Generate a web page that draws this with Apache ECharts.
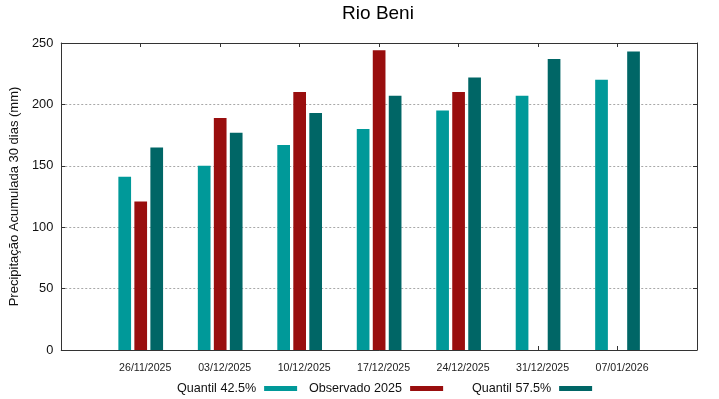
<!DOCTYPE html>
<html>
<head>
<meta charset="utf-8">
<script src="https://cdn.jsdelivr.net/npm/echarts@6/dist/echarts.min.js"></script>
<style>
  html, body { margin: 0; padding: 0; background: #fff; }
  #main { width: 719px; height: 399px; }
</style>
</head>
<body>
<div id="main"></div>
<script>
// datas das previsões (eixo x)
var dates = ['26/11/2025', '03/12/2025', '10/12/2025', '17/12/2025', '24/12/2025', '31/12/2025', '07/01/2026']
// precipitação acumulada 30 dias (mm)
var q425 = [141, 150, 167, 180, 195, 207, 220]
var obs2025 = [121, 189, 210, 244, 210, null, null]
var q575 = [165, 177, 193, 207, 222, 237, 243]
var yTicks = [0, 50, 100, 150, 200, 250]

var names = ['Quantil 42.5%', 'Observado 2025', 'Quantil 57.5%']
var colors = ['#009999', '#990e0e', '#006666']

// pares [índice, valor] para o eixo de valores
function toPairs(arr) {
    return arr.map(function (v, i) { return [i, v] })
}

var myChart = echarts.init(document.getElementById('main'))

var frameLine = { show: true, onZero: false, lineStyle: { color: '#333', width: 1 } }

function legendItem(i, left) {
    return {
        data: [names[i]],
        left: left,
        top: 382,
        padding: 0,
        icon: 'rect',
        itemWidth: 33,
        itemHeight: 5,
        align: 'right',
        selectedMode: false,
        textStyle: { fontSize: 12.6, color: '#111', fontFamily: 'Liberation Sans', padding: [0, 3, 0, 0] }
    }
}

var option = {
    animation: false,
    textStyle: { fontFamily: 'Liberation Sans' },
    title: {
        text: 'Rio Beni',
        left: 378,
        top: 4,
        padding: 0,
        textAlign: 'center',
        textStyle: { fontSize: 19, fontWeight: 'normal', color: '#000', fontFamily: 'Liberation Sans' }
    },
    legend: [legendItem(0, 177), legendItem(1, 309), legendItem(2, 472)],
    grid: { left: 59, right: 22, top: 43, bottom: 49, containLabel: false },
    xAxis: [
        {
            type: 'value',
            min: -1, max: 7, interval: 1,
            axisLine: frameLine,
            axisTick: { show: true, inside: true, length: 4, lineStyle: { color: '#333' } },
            axisLabel: {
                fontSize: 10.6, color: '#222', margin: 13, padding: [0, 0, 0, 9],
                formatter: function (v) { return dates[v] || '' }
            },
            splitLine: { show: false }
        },
        {
            type: 'value',
            position: 'top',
            min: -1, max: 7, interval: 1,
            axisLine: frameLine,
            axisTick: { show: true, inside: true, length: 4, lineStyle: { color: '#333' } },
            axisLabel: { show: false },
            splitLine: { show: false }
        }
    ],
    yAxis: [
        {
            type: 'value',
            min: yTicks[0], max: yTicks[yTicks.length - 1], interval: 50,
            name: 'Precipitação Acumulada 30 dias (mm)',
            nameLocation: 'middle',
            nameGap: 33,
            nameTextStyle: { fontSize: 13, color: '#111' },
            axisLine: frameLine,
            axisTick: { show: true, inside: true, length: 4, lineStyle: { color: '#333' } },
            axisLabel: { fontSize: 12.8, color: '#111', margin: 8 },
            splitLine: { show: true, lineStyle: { color: '#a8a8a8', type: [2, 2], width: 1 } }
        },
        {
            type: 'value',
            position: 'right',
            min: yTicks[0], max: yTicks[yTicks.length - 1], interval: 50,
            axisLine: frameLine,
            axisTick: { show: true, inside: true, length: 4, lineStyle: { color: '#333' } },
            axisLabel: { show: false },
            splitLine: { show: false }
        }
    ],
    series: [
        {
            name: names[0], type: 'bar', barWidth: 12.7, barGap: '26%',
            itemStyle: { color: colors[0] },
            data: toPairs(q425)
        },
        {
            name: names[1], type: 'bar', barWidth: 12.7, barGap: '26%',
            itemStyle: { color: colors[1] },
            data: toPairs(obs2025)
        },
        {
            name: names[2], type: 'bar', barWidth: 12.7, barGap: '26%',
            itemStyle: { color: colors[2] },
            data: toPairs(q575)
        }
    ]
}

myChart.setOption(option)
</script>
</body>
</html>
